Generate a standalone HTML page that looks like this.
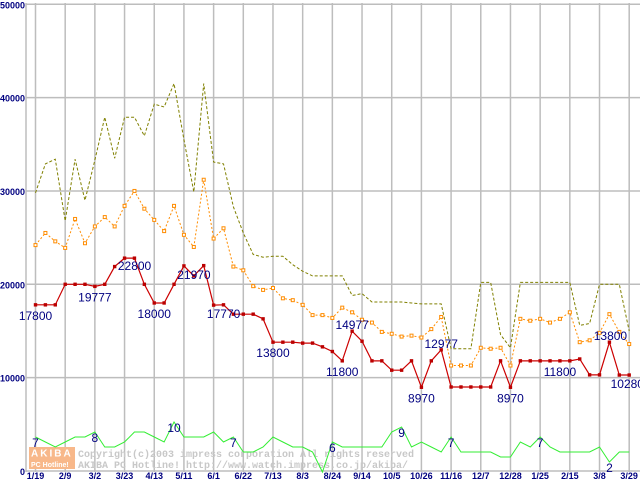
<!DOCTYPE html>
<html><head><meta charset="utf-8">
<style>
html,body{margin:0;padding:0;background:#fff;}
svg{display:block;}
text{font-family:"Liberation Sans",sans-serif;}
</style></head>
<body>
<svg id="chart" width="640" height="480" viewBox="0 0 640 480" xmlns="http://www.w3.org/2000/svg">
<g id="grid"></g>
<g id="watermark">
  <rect x="29" y="447" width="46" height="11" fill="#f8b88a"/>
  <rect x="29" y="458" width="46" height="11" fill="#f8b88a"/>
  <text x="31" y="456.5" font-size="10" font-weight="bold" fill="#fff" letter-spacing="2">AKIBA</text>
  <text x="31" y="467" font-size="7" font-weight="bold" fill="#fff">PC Hotline!</text>
  <text x="78" y="457" font-size="10" font-weight="bold" fill="#c8c8c8" style="font-family:'Liberation Mono',monospace">Copyright(c)2003 impress corporation All rights reserved</text>
  <text x="78" y="468" font-size="10" font-weight="bold" fill="#c8c8c8" style="font-family:'Liberation Mono',monospace">AKIBA PC Hotline!  http://www.watch.impress.co.jp/akiba/</text>
</g>
<g id="series"></g>
<g id="labels"></g>
</svg>
<script>
const xLabels = ["1/19","2/9","3/2","3/23","4/13","5/11","6/1","6/22","7/13","8/3","8/24","9/14","10/5","10/26","11/16","12/7","12/28","1/25","2/15","3/8","3/29"];
const yTicks = [0,10000,20000,30000,40000,50000];
const minPrice = [17800,17800,17800,20000,20000,20000,19777,20000,21900,22800,22800,20000,18000,18000,20000,21970,20900,22000,17770,17800,16800,16800,16800,16300,13800,13800,13800,13700,13700,13300,12800,11800,14977,13900,11800,11800,10800,10800,11800,8970,11800,12977,9000,9000,9000,9000,9000,11800,8970,11800,11800,11800,11800,11800,11800,12000,10300,10300,13800,10280,10280];
const avgPrice = [24200,25500,24600,23900,27000,24400,26200,27200,26200,28400,30000,28100,26900,25700,28400,25300,24000,31200,24900,26000,21900,21500,19800,19400,19600,18500,18300,17800,16700,16700,16400,17500,17000,16200,15900,14900,14700,14400,14500,14300,15200,16500,11300,11300,11300,13200,13100,13200,11300,16300,16100,16300,15900,16300,17000,13800,14000,14800,16800,14900,13600];
const maxPrice = [29800,32900,33400,26800,33400,29000,33300,37900,33500,37900,37900,35900,39300,39000,41500,35500,29900,41500,33100,32900,28300,25500,23200,22900,23000,23000,22100,21400,20900,20900,20900,20900,18800,19000,18100,18100,18100,18100,18000,17900,17900,17900,13100,13100,13100,20200,20200,14600,13200,20200,20200,20200,20200,20200,20200,15600,15800,20000,20000,20000,15000];
const shopCount = [7,6,5,6,7,7,8,5,5,6,8,8,7,6,10,7,7,7,8,6,7,4,4,5,7,6,5,5,4,0,6,5,5,5,5,5,8,9,5,6,5,4,7,4,4,4,4,3,3,6,5,7,5,4,4,4,4,5,2,4,4];
const priceLabels = [[0,"17800"],[6,"19777"],[9,"22800"],[12,"18000"],[15,"21970"],[18,"17770"],[24,"13800"],[31,"11800"],[32,"14977"],[39,"8970"],[41,"12977"],[48,"8970"],[53,"11800"],[58,"13800"],[59,"10280"]];
const countLabels = [[0,"7"],[6,"8"],[14,"10"],[20,"7"],[30,"6"],[37,"9"],[42,"7"],[51,"7"],[58,"2"]];

const NS="http://www.w3.org/2000/svg";
function X(i){return 35.5+i*9.895;}
function Y(v){return 471-v*0.009335;}
function YC(c){return 472-c*5;}
function mk(tag,attrs,parent){const e=document.createElementNS(NS,tag);for(const k in attrs)e.setAttribute(k,attrs[k]);parent.appendChild(e);return e;}
const grid=document.getElementById('grid'),series=document.getElementById('series'),labels=document.getElementById('labels');

yTicks.forEach(v=>{
  const l=mk('line',{x1:26,x2:640,y1:Y(v),y2:Y(v),stroke:'#bdbdbd','stroke-width':1.5},grid);
  
  
  const t=mk('text',{x:25,y:Y(v)+4,'text-anchor':'end','font-size':9,'font-weight':'bold',fill:'#000080'},labels);
  t.textContent=v;
  
  
});
const ax=mk('line',{x1:26,x2:26,y1:3,y2:472,stroke:'#bdbdbd','stroke-width':1.5},grid);


xLabels.forEach((s,k)=>{
  const x=X(k*3);
  const l=mk('line',{x1:x,x2:x,y1:3,y2:472,stroke:'#bdbdbd','stroke-width':1.5},grid);
  
  
  const t=mk('text',{x:x,y:479,'text-anchor':'middle','font-size':9,'font-weight':'bold',fill:'#000080'},labels);
  t.textContent=s;
  
  
});
function pts(arr,fy){return arr.map((v,i)=>X(i)+','+fy(v)).join(' ');}
const g=mk('polyline',{points:pts(shopCount,YC),fill:'none',stroke:'#33ee33','stroke-width':1},series);


const mx=mk('polyline',{points:pts(maxPrice,Y),fill:'none',stroke:'#808000','stroke-width':1,'stroke-dasharray':'3,2'},series);


const av=mk('polyline',{points:pts(avgPrice,Y),fill:'none',stroke:'#ff8c00','stroke-width':1,'stroke-dasharray':'2,2'},series);


avgPrice.forEach((v,i)=>{
  const r=mk('rect',{x:X(i)-1.5,y:Y(v)-1.5,width:3,height:3,fill:'#fff',stroke:'#ff8c00','stroke-width':1},series);
  
  
});
const mn=mk('polyline',{points:pts(minPrice,Y),fill:'none',stroke:'#cc0000','stroke-width':1.2},series);


minPrice.forEach((v,i)=>{
  const r=mk('rect',{x:X(i)-1.7,y:Y(v)-1.7,width:3.4,height:3.4,fill:'#bb0000'},series);
  
  
});
const labelOffsets={0:[0,15],6:[0,15],9:[10,12],12:[0,15],15:[10,13],18:[10,13],24:[0,15],31:[0,15],32:[0,-2],39:[0,15],41:[0,-2],48:[0,15],53:[0,15],58:[1,-2],59:[8,13]};
priceLabels.forEach(([i,s])=>{
  const o=labelOffsets[i]||[0,-2];
  const t=mk('text',{x:X(i)+o[0],y:Y(minPrice[i])+o[1],'text-anchor':'middle','font-size':12,fill:'#000080'},labels);
  t.textContent=s;
  
  
});
countLabels.forEach(([i,s])=>{
  const t=mk('text',{x:X(i),y:YC(shopCount[i])+10,'text-anchor':'middle','font-size':12,fill:'#000080'},labels);
  t.textContent=s;
  
  
});
</script>
</body></html>
